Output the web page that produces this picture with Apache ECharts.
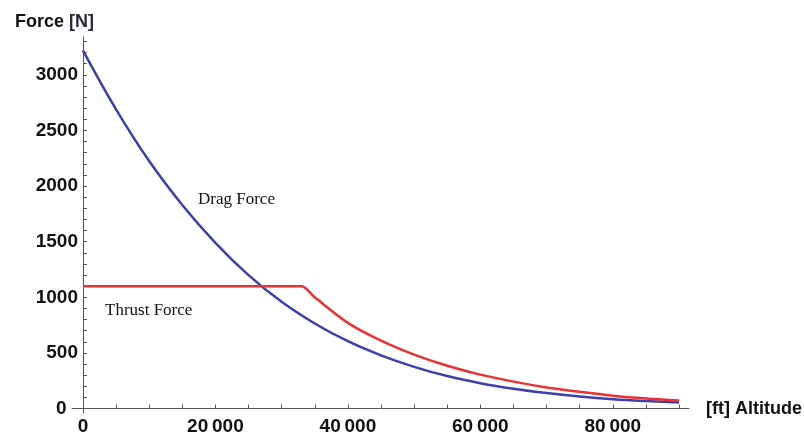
<!DOCTYPE html>
<html>
<head>
<meta charset="utf-8">
<script src="https://cdn.jsdelivr.net/npm/echarts@6/dist/echarts.min.js"></script>
<style>
  html, body { margin: 0; padding: 0; background: #fff; }
  #chart { width: 804px; height: 435px; }
</style>
</head>
<body>
<div id="chart"></div>
<script>
// altitude in ft, forces in N
var altitude = [0, 5000, 10000, 15000, 20000, 25000, 30000, 35000, 40000, 45000, 50000, 55000, 60000, 65000, 70000, 75000, 80000, 85000, 90000];
var dragForce = [3220, 2690, 2225, 1830, 1490, 1200, 960, 765, 605, 478, 375, 292, 228, 178, 139, 108, 84, 67, 54];

var thrustAltitude = [0, 10000, 20000, 30000, 33000, 35000, 40000, 45000, 50000, 55000, 60000, 65000, 70000, 75000, 80000, 85000, 90000];
var thrustForce = [1100, 1100, 1100, 1100, 1100, 1000, 770, 610, 485, 385, 305, 242, 190, 150, 115, 90, 72];

var xLabelValues = [0, 20000, 40000, 60000, 80000];
var yLabelValues = [0, 500, 1000, 1500, 2000, 2500, 3000];

var xTicks = [];
for (var i = 0; i <= 90000; i += 5000) xTicks.push(i);
var yTicks = [];
for (var j = 0; j <= 3300; j += 100) yTicks.push(j);

var labelFont = {
  color: '#111',
  fontFamily: 'Liberation Sans',
  fontWeight: 'bold',
  fontSize: 19
};

var chart = echarts.init(document.getElementById('chart'));
chart.setOption({
  animation: false,
  title: {
    text: '{a|Force} {b|[N]}',
    left: 10,
    top: 8,
    textStyle: {
      rich: {
        a: { color: '#111', fontFamily: 'Liberation Sans', fontWeight: 'bold', fontSize: 18 },
        b: { color: '#2a2a3a', fontFamily: 'Liberation Sans', fontWeight: 'bold', fontSize: 18 }
      }
    }
  },
  grid: {
    left: 72,
    right: 115,
    top: 37,
    bottom: 22,
    containLabel: false,
    outerBoundsMode: 'none'
  },
  xAxis: {
    type: 'value',
    min: -1650,
    max: 91500,
    name: '[ft] Altitude',
    nameLocation: 'end',
    nameGap: 17,
    nameTextStyle: {
      color: '#111',
      fontFamily: 'Liberation Sans',
      fontWeight: 'bold',
      fontSize: 18,
      verticalAlign: 'middle'
    },
    axisLine: { onZero: true, lineStyle: { color: '#555', width: 1 } },
    axisTick: { inside: true, length: 4, customValues: xTicks, lineStyle: { color: '#555' } },
    axisLabel: Object.assign({
      customValues: xLabelValues,
      margin: 4,
      formatter: function (v) {
        return v === 0 ? '0' : (v / 1000) + '\u2009000';
      }
    }, labelFont),
    splitLine: { show: false }
  },
  yAxis: {
    type: 'value',
    min: -40,
    max: 3340,
    axisLine: { onZero: true, lineStyle: { color: '#555', width: 1 } },
    axisTick: { inside: true, length: 4, customValues: yTicks, lineStyle: { color: '#555' } },
    axisLabel: Object.assign({
      customValues: yLabelValues,
      // labels are placed from the grid edge, the axis line sits 11px to the right of it
      margin: -6,
      formatter: function (v) {
        // the zero sits a bit further left in the original
        return v === 0 ? '0\u2009\u2009\u2009' : String(v);
      }
    }, labelFont),
    splitLine: { show: false }
  },
  graphic: [
    {
      type: 'text',
      left: 198,
      top: 191,
      style: { text: 'Drag Force', font: '17px "Liberation Serif"', fill: '#111' }
    },
    {
      type: 'text',
      left: 105,
      top: 302,
      style: { text: 'Thrust Force', font: '17px "Liberation Serif"', fill: '#111' }
    }
  ],
  series: [
    {
      name: 'Drag Force',
      type: 'line',
      showSymbol: false,
      smooth: 0.4,
      lineStyle: { color: '#3c3fb0', width: 2.5 },
      data: altitude.map(function (a, k) { return [a, dragForce[k]]; })
    },
    {
      name: 'Thrust Force',
      type: 'line',
      showSymbol: false,
      smooth: 0.3,
      lineStyle: { color: '#f03030', width: 2.5 },
      data: thrustAltitude.map(function (a, k) { return [a, thrustForce[k]]; })
    }
  ]
});
</script>
</body>
</html>
